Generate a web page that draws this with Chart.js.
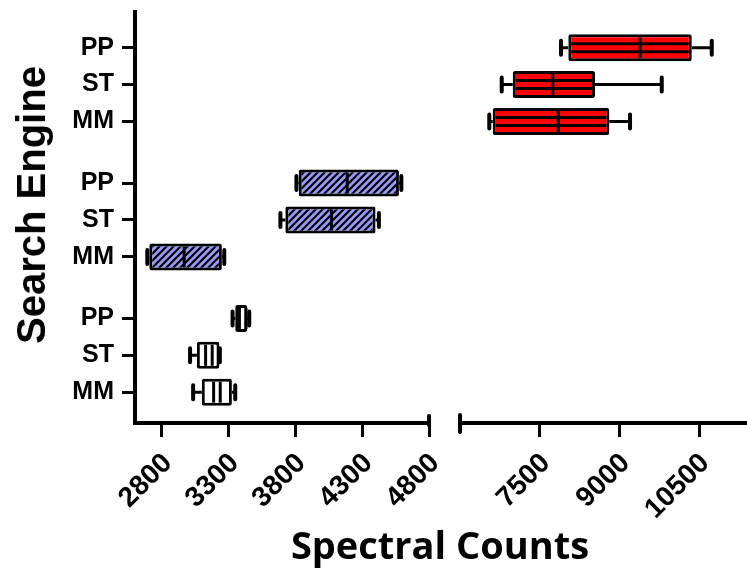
<!DOCTYPE html>
<html><head><meta charset="utf-8">
<script src="https://cdn.jsdelivr.net/npm/chart.js@4.4.1/dist/chart.umd.min.js"></script>
<style>
html,body{margin:0;padding:0;background:#fff;}
#wrap{position:relative;width:747px;height:571px;overflow:hidden;background:#fff;}
#cL{position:absolute;left:0;top:0;}
#cR{position:absolute;left:440px;top:0;}
#xtitle{position:absolute;left:0;width:880px;top:518px;text-align:center;font-family:'Open Sans',sans-serif;font-weight:bold;font-size:38px;color:#000;white-space:nowrap;}
#ytitle{position:absolute;left:31px;top:205px;width:0;height:0;}
#ytitle span{position:absolute;left:0;top:0;transform:translate(-50%,-50%) rotate(-90deg);font-family:'Liberation Sans',Arial,sans-serif;font-weight:bold;font-size:40px;color:#000;white-space:nowrap;line-height:1;}
</style></head><body>
<div id="wrap">
<canvas id="cL" width="440" height="571"></canvas>
<canvas id="cR" width="307" height="571"></canvas>
<div id="ytitle"><span>Search Engine</span></div>
<div id="xtitle">Spectral Counts</div>
</div>
<script>
// ---- data (rows within each group, bottom to top) ----
const engines = ['MM', 'ST', 'PP'];

const whiteMin = [3035, 3012, 3330];
const whiteQ1  = [3100, 3063, 3350];
const whiteMed = [3213, 3153, 3406];
const whiteQ3  = [3325, 3232, 3440];
const whiteMax = [3350, 3235, 3455];

const blueMin = [2692, 3688, 3808];
const blueQ1  = [2707, 3725, 3825];
const blueMed = [2968, 4070, 4188];
const blueQ3  = [3250, 4400, 4575];
const blueMax = [3268, 4425, 4593];

const redMin = [6551, 6785, 7901];
const redQ1  = [6615, 6992, 8038];
const redMed = [7850, 7745, 9388];
const redQ3  = [8810, 8541, 10361];
const redMax = [9199, 9796, 10737];

const xTicksLeft  = [2800, 3300, 3800, 4300, 4800];
const xTicksRight = [7500, 9000, 10500];

// ---- layout constants ----
const Y_MAX = 33.4, FIRST_ROW = 2.5, ROW_STEP = 3, GROUP_STEP = 11;
const BOX_H = 27, BW = 3, CAP = 7;
function rowPos(g, i) { return FIRST_ROW + g * GROUP_STEP + i * ROW_STEP; }

const rowTicks = [];
for (let g = 0; g < 3; g++) for (let i = 0; i < 3; i++) rowTicks.push({pos: rowPos(g, i), label: engines[i]});

function makeHatch() {
  const s = 7, c = document.createElement('canvas');
  c.width = s; c.height = s;
  const x = c.getContext('2d');
  x.fillStyle = '#9999ff'; x.fillRect(0, 0, s, s);
  x.strokeStyle = '#000'; x.lineWidth = 2.2;
  x.beginPath();
  x.moveTo(0, s); x.lineTo(s, 0);
  x.moveTo(-1, 1); x.lineTo(1, -1);
  x.moveTo(s - 1, s + 1); x.lineTo(s + 1, s - 1);
  x.stroke();
  return x.createPattern(c, 'repeat');
}

function makeDs(g, q1, q3, stats, bg, deco) {
  return {
    data: q1.map((v, i) => ({x: [v, q3[i]], y: rowPos(g, i)})),
    group: g, stats: stats, deco: deco,
    backgroundColor: bg, borderColor: '#000', borderWidth: BW,
    borderSkipped: false, borderRadius: 2, barThickness: BOX_H, grouped: false, inflateAmount: 0
  };
}

const boxDeco = {
  id: 'boxDeco',
  beforeDatasetsDraw(chart) {
    const ctx = chart.ctx, xs = chart.scales.x, ys = chart.scales.y;
    ctx.save();
    ctx.strokeStyle = '#000';
    chart.data.datasets.forEach(ds => {
      const s = ds.stats;
      s.min.forEach((mn, i) => {
        const y = ys.getPixelForValue(rowPos(ds.group, i));
        const pMin = xs.getPixelForValue(mn), pQ1 = xs.getPixelForValue(s.q1[i]);
        const pQ3 = xs.getPixelForValue(s.q3[i]), pMax = xs.getPixelForValue(s.max[i]);
        ctx.lineWidth = 3; ctx.lineCap = 'butt';
        ctx.beginPath();
        ctx.moveTo(pMin, y); ctx.lineTo(pQ1, y);
        ctx.moveTo(pQ3, y); ctx.lineTo(pMax, y);
        ctx.stroke();
        ctx.lineWidth = 4; ctx.lineCap = 'round';
        ctx.beginPath();
        ctx.moveTo(pMin, y - CAP); ctx.lineTo(pMin, y + CAP);
        ctx.moveTo(pMax, y - CAP); ctx.lineTo(pMax, y + CAP);
        ctx.stroke();
      });
    });
    ctx.restore();
  },
  afterDatasetsDraw(chart) {
    const ctx = chart.ctx, xs = chart.scales.x, ys = chart.scales.y;
    ctx.save();
    ctx.strokeStyle = '#000'; ctx.lineCap = 'butt';
    chart.data.datasets.forEach(ds => {
      const s = ds.stats;
      s.med.forEach((m, i) => {
        const yc = ys.getPixelForValue(rowPos(ds.group, i));
        const l = xs.getPixelForValue(s.q1[i]), r = xs.getPixelForValue(s.q3[i]);
        const inner = BOX_H / 2 - BW;
        if (ds.deco === 'stripes') {
          const lw = 3, band = (2 * inner - 2 * lw) / 3, off = band / 2 + lw / 2;
          ctx.lineWidth = lw;
          [yc - off, yc + off].forEach(yy => {
            ctx.beginPath(); ctx.moveTo(l + BW, yy); ctx.lineTo(r - BW, yy); ctx.stroke();
          });
        }
        const pm = xs.getPixelForValue(m);
        ctx.lineWidth = 3;
        const offs = ds.deco === 'white' ? [-3.3, 3.3] : [0];
        offs.forEach(o => {
          ctx.beginPath(); ctx.moveTo(pm + o, yc - inner); ctx.lineTo(pm + o, yc + inner); ctx.stroke();
        });
      });
    });
    ctx.restore();
  }
};

function axisCap(side) {
  return {
    id: 'axisCap',
    afterDraw(chart) {
      const ctx = chart.ctx, a = chart.chartArea;
      const x = side === 'left' ? a.left : a.right;
      ctx.save();
      ctx.strokeStyle = '#000'; ctx.lineWidth = 4; ctx.lineCap = 'round';
      ctx.beginPath();
      if (side === 'left') { ctx.moveTo(x, a.bottom - 8); ctx.lineTo(x, a.bottom + 9); }
      else { ctx.moveTo(x, a.bottom - 7); ctx.lineTo(x, a.bottom + 2); }
      ctx.stroke();
      ctx.restore();
    }
  };
}

function noPad(s) { s.paddingLeft = 0; s.paddingRight = 0; s.paddingTop = 0; s.paddingBottom = 0; }

const tickFontX = {family: "'Liberation Sans', Arial, sans-serif", weight: 'bold', size: 28};
const tickFontY = {family: "'Liberation Sans', Arial, sans-serif", weight: 'bold', size: 25};

function xScale(min, max, ticks) {
  return {
    type: 'linear', min: min, max: max,
    afterBuildTicks: s => { s.ticks = ticks.map(v => ({value: v})); },
    afterFit: s => { s.height = 148; noPad(s); },
    grid: {display: true, drawOnChartArea: false, drawTicks: true, tickLength: 14, tickWidth: 3, tickColor: '#000', offset: false},
    border: {display: true, width: 4, color: '#000'},
    ticks: {autoSkip: false, minRotation: 45, maxRotation: 45, padding: 10, labelOffset: 6, color: '#000', font: tickFontX,
            callback: v => String(v)}
  };
}

const hatch = makeHatch();

new Chart(document.getElementById('cL'), {
  type: 'bar',
  data: {datasets: [
    makeDs(0, whiteQ1, whiteQ3, {min: whiteMin, q1: whiteQ1, med: whiteMed, q3: whiteQ3, max: whiteMax}, '#ffffff', 'white'),
    makeDs(1, blueQ1, blueQ3, {min: blueMin, q1: blueQ1, med: blueMed, q3: blueQ3, max: blueMax}, hatch, 'hatch')
  ]},
  options: {
    indexAxis: 'y', responsive: false, animation: false, devicePixelRatio: 1,
    layout: {autoPadding: false, padding: {top: 12, left: 0, right: 11, bottom: 0}},
    plugins: {legend: {display: false}, tooltip: {enabled: false}},
    scales: {
      x: xScale(2600, 4800, xTicksLeft),
      y: {
        type: 'linear', min: 0, max: Y_MAX, offset: false,
        afterBuildTicks: s => { s.ticks = rowTicks.map(t => ({value: t.pos})); },
        afterFit: s => { s.width = 135; noPad(s); },
        grid: {display: true, drawOnChartArea: false, drawTicks: true, tickLength: 13, tickWidth: 3, tickColor: '#000', offset: false},
        border: {display: true, width: 4, color: '#000'},
        ticks: {autoSkip: false, padding: 8, color: '#000', font: tickFontY,
                callback: v => { const t = rowTicks.find(r => Math.abs(r.pos - v) < 1e-6); return t ? t.label : ''; }}
      }
    }
  },
  plugins: [boxDeco, axisCap('right')]
});

new Chart(document.getElementById('cR'), {
  type: 'bar',
  data: {datasets: [
    makeDs(2, redQ1, redQ3, {min: redMin, q1: redQ1, med: redMed, q3: redQ3, max: redMax}, '#ff0000', 'stripes')
  ]},
  options: {
    indexAxis: 'y', responsive: false, animation: false, devicePixelRatio: 1,
    layout: {autoPadding: false, padding: {top: 12, left: 20, right: 0, bottom: 0}},
    plugins: {legend: {display: false}, tooltip: {enabled: false}},
    scales: {
      x: xScale(6000, 11400, xTicksRight),
      y: {type: 'linear', display: false, min: 0, max: Y_MAX, offset: false}
    }
  },
  plugins: [boxDeco, axisCap('left')]
});
</script>
</body></html>
